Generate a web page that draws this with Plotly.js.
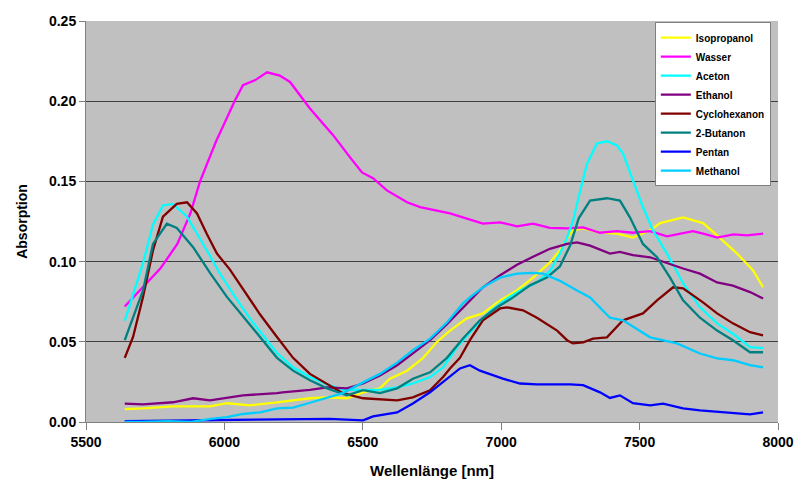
<!DOCTYPE html>
<html>
<head>
<meta charset="utf-8">
<script src="https://cdn.plot.ly/plotly-3.0.1.min.js"></script>
<style>html,body{margin:0;padding:0;background:#fff;}#chart{width:801px;height:486px;}</style>
</head>
<body>
<div id="chart"></div>
<script>
// Isopropanol
const isoX = [5640,5706,5814,5948,6009,6093,6190,6248,6309,6371,6443,6501,6562,6598,6660,6718,6768,6815,6876,6934,6996,7057,7115,7176,7212,7238,7259,7296,7357,7418,7476,7538,7574,7657,7729,7780,7852,7910,7946];
const isoY = [0.008,0.0085,0.0098,0.0098,0.0117,0.0104,0.0123,0.0135,0.0148,0.0154,0.0148,0.0185,0.021,0.027,0.032,0.040,0.050,0.057,0.0646,0.0677,0.0758,0.082,0.090,0.0995,0.107,0.1145,0.1195,0.1207,0.118,0.1175,0.115,0.1195,0.124,0.1276,0.124,0.1163,0.105,0.0945,0.084];
// Wasser
const wasX = [5640,5706,5770,5830,5877,5912,5970,6038,6067,6110,6154,6200,6237,6309,6392,6454,6497,6537,6587,6660,6707,6815,6876,6934,6996,7057,7115,7176,7238,7296,7357,7418,7476,7538,7599,7657,7693,7740,7780,7840,7888,7946];
const wasY = [0.072,0.084,0.096,0.111,0.130,0.150,0.175,0.2005,0.210,0.213,0.218,0.216,0.212,0.1955,0.179,0.165,0.1556,0.152,0.1444,0.137,0.134,0.130,0.127,0.1237,0.1245,0.122,0.1237,0.121,0.1207,0.1213,0.118,0.119,0.118,0.119,0.1157,0.118,0.119,0.117,0.115,0.117,0.1163,0.1175];
// Aceton
const aceX = [5640,5706,5742,5778,5814,5865,5923,5984,6046,6103,6190,6248,6309,6371,6428,6501,6562,6624,6681,6743,6790,6840,6898,6960,7021,7079,7129,7176,7212,7238,7259,7285,7310,7346,7382,7418,7440,7476,7512,7548,7599,7657,7718,7780,7837,7899,7946];
const aceY = [0.063,0.099,0.123,0.135,0.136,0.128,0.111,0.0925,0.076,0.062,0.043,0.034,0.028,0.0235,0.020,0.0198,0.020,0.0216,0.024,0.028,0.034,0.0466,0.058,0.069,0.077,0.083,0.087,0.094,0.105,0.115,0.125,0.144,0.161,0.1737,0.175,0.1725,0.1674,0.1506,0.134,0.1195,0.105,0.0865,0.0715,0.0615,0.055,0.0466,0.046];
// Ethanol
const ethX = [5640,5706,5814,5887,5948,6067,6190,6210,6309,6371,6443,6501,6562,6624,6681,6743,6804,6862,6887,6934,6996,7057,7115,7176,7238,7274,7321,7393,7429,7476,7538,7599,7657,7718,7780,7837,7899,7946];
const ethY = [0.0115,0.011,0.0123,0.0148,0.0135,0.0166,0.018,0.0185,0.020,0.0216,0.021,0.024,0.029,0.0354,0.0428,0.051,0.061,0.071,0.0758,0.084,0.0915,0.098,0.103,0.108,0.111,0.112,0.110,0.105,0.106,0.104,0.1027,0.099,0.0957,0.0925,0.087,0.085,0.081,0.077];
// Cyclohexanon
const cycX = [5640,5670,5706,5742,5778,5828,5865,5901,5937,5973,6020,6067,6129,6190,6248,6309,6371,6428,6501,6562,6624,6681,6743,6790,6815,6851,6887,6934,6996,7021,7079,7129,7176,7202,7238,7259,7296,7332,7382,7440,7512,7563,7621,7657,7729,7780,7837,7899,7946];
const cycY = [0.040,0.053,0.078,0.107,0.128,0.136,0.137,0.130,0.117,0.105,0.095,0.083,0.067,0.053,0.040,0.030,0.024,0.018,0.0148,0.014,0.0135,0.0154,0.0198,0.028,0.0334,0.040,0.051,0.0634,0.0708,0.0715,0.0696,0.065,0.060,0.057,0.051,0.049,0.0497,0.052,0.0528,0.0634,0.0677,0.0758,0.084,0.0833,0.0746,0.0677,0.0615,0.056,0.054];
// 2-Butanon
const butX = [5640,5706,5742,5792,5828,5887,5948,6009,6067,6129,6190,6248,6309,6371,6443,6501,6562,6624,6681,6743,6804,6862,6923,6985,7043,7104,7165,7212,7249,7280,7321,7382,7429,7465,7512,7563,7610,7657,7718,7780,7837,7899,7946];
const butY = [0.051,0.082,0.111,0.1236,0.121,0.109,0.093,0.078,0.066,0.053,0.040,0.032,0.026,0.021,0.0166,0.0198,0.018,0.021,0.027,0.031,0.040,0.052,0.0634,0.0715,0.0777,0.0852,0.090,0.097,0.110,0.127,0.138,0.1395,0.138,0.1276,0.111,0.1027,0.090,0.0758,0.065,0.057,0.051,0.0435,0.0435];
// Pentan
const penX = [5640,5800,6000,6200,6380,6501,6537,6624,6681,6743,6804,6851,6887,6923,7006,7068,7129,7249,7296,7357,7393,7429,7476,7538,7585,7657,7718,7816,7899,7946];
const penY = [0.0005,0.0008,0.001,0.0015,0.002,0.001,0.0035,0.006,0.0115,0.0185,0.027,0.0334,0.0354,0.032,0.027,0.024,0.0235,0.0235,0.023,0.0185,0.015,0.0166,0.0117,0.0104,0.0115,0.0085,0.0073,0.006,0.0048,0.006];
// Methanol
const metX = [5640,5700,5800,5880,5950,6009,6067,6129,6190,6248,6309,6371,6428,6501,6562,6624,6681,6743,6804,6862,6887,6934,6996,7057,7115,7151,7212,7274,7321,7393,7440,7538,7635,7718,7780,7837,7899,7946];
const metY = [0.0,0.0,0.0005,0.0,0.002,0.003,0.005,0.006,0.0085,0.009,0.012,0.015,0.018,0.0247,0.030,0.037,0.0447,0.052,0.062,0.074,0.0777,0.084,0.090,0.0925,0.093,0.0925,0.088,0.082,0.0777,0.065,0.0634,0.0528,0.049,0.0427,0.0397,0.0385,0.0354,0.034];

const names = ["Isopropanol","Wasser","Aceton","Ethanol","Cyclohexanon","2-Butanon","Pentan","Methanol"];
const colors = ["#FFFF00","#FF00FF","#00FFFF","#800080","#800000","#008080","#0000FF","#00CCFF"];
const xs = [isoX,wasX,aceX,ethX,cycX,butX,penX,metX];
const ys = [isoY,wasY,aceY,ethY,cycY,butY,penY,metY];

const traces = names.map((n,i)=>({
  type:"scatter", mode:"lines", name:n, x:xs[i], y:ys[i],
  line:{color:colors[i], width:2.3}
}));

const F = "Arial, 'Liberation Sans', sans-serif";
const layout = {
  width:801, height:486,
  margin:{l:86, r:23, t:21, b:64},
  paper_bgcolor:"#ffffff",
  plot_bgcolor:"#c0c0c0",
  font:{family:F, color:"#000"},
  showlegend:true,
  legend:{
    x:0.822, y:0.997, xanchor:"left", yanchor:"top",
    bgcolor:"#ffffff", bordercolor:"#808080", borderwidth:1,
    font:{family:F, size:10, weight:"bold", color:"#000"},
    tracegroupgap:0, itemwidth:30
  },
  xaxis:{
    range:[5500,8000], dtick:500, tick0:5500,
    showgrid:false, zeroline:false,
    showline:true, linecolor:"#808080", linewidth:1,
    ticks:"outside", ticklen:7, tickcolor:"#808080",
    tickfont:{family:F, size:14, weight:"bold"},
    title:{text:"Wellenlänge [nm]", font:{family:F, size:15, weight:"bold"}, standoff:16}
  },
  yaxis:{
    range:[0,0.25], dtick:0.05, tick0:0, tickformat:".2f",
    showgrid:true, gridcolor:"#404040", gridwidth:1,
    zeroline:false,
    showline:true, linecolor:"#808080", linewidth:1,
    ticks:"outside", ticklen:6, tickcolor:"#808080",
    tickfont:{family:F, size:14, weight:"bold"},
    title:{text:"Absorption", font:{family:F, size:14, weight:"bold"}, standoff:18}
  }
};

Plotly.newPlot("chart", traces, layout, {displayModeBar:false, staticPlot:true});
</script>
</body>
</html>
